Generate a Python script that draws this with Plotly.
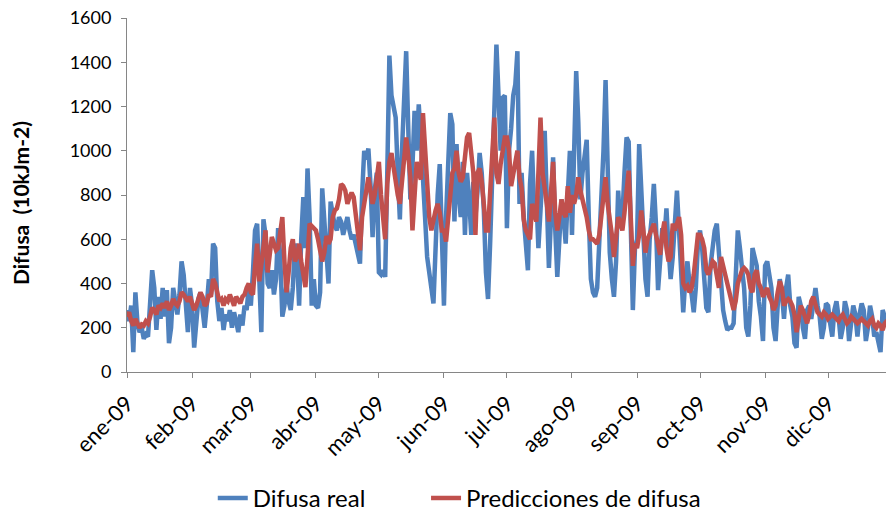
import pandas as pd
import plotly.graph_objects as go

# Daily diffuse radiation for 2009 (10 kJ m-2), one row per month
difusa_real = [
    280, 230, 300, 90, 360, 220, 180, 200, 150, 170, 160, 300, 460, 380, 190, 340, 240, 380, 250, 370, 130, 200, 380, 320, 260, 350, 500, 440, 300, 180, 380,
    300, 110, 250, 330, 360, 280, 200, 300, 420, 350, 580, 560, 320, 230, 290, 190, 260, 230, 280, 200, 270, 230, 180, 260, 210, 300, 280, 380,
    300, 450, 640, 670, 400, 180, 690, 620, 400, 380, 460, 350, 420, 650, 520, 250, 300, 400, 320, 280, 380, 580, 520, 300, 600, 790, 560, 920, 700, 300, 420,
    300, 290, 360, 830, 700, 580, 400, 770, 700, 660, 640, 700, 680, 620, 660, 700, 640, 600, 620, 580, 540, 490, 800, 1000, 960, 1010, 850, 610, 820, 900,
    450, 440, 460, 430, 900, 1430, 1250, 1200, 1150, 900, 690, 1000, 1300, 1450, 1100, 780, 930, 1180, 1000, 1210, 1050, 820, 700, 520, 430, 380, 310, 600, 800, 940, 560,
    300, 700, 1000, 1170, 1120, 680, 1030, 800, 700, 950, 620, 900, 780, 620, 860, 700, 820, 990, 900, 730, 450, 330, 580, 870, 1100, 1480, 1250, 1000, 1240, 1250,
    650, 1000, 1100, 1250, 1300, 1450, 760, 900, 700, 600, 460, 850, 1000, 730, 800, 560, 700, 900, 1090, 800, 470, 700, 970, 650, 430, 600, 780, 700, 580, 800, 1000,
    620, 1100, 1360, 1130, 780, 900, 1000, 1050, 700, 420, 360, 340, 380, 560, 730, 1000, 1320, 800, 540, 420, 340, 500, 820, 650, 700, 900, 1060, 1040, 600, 280, 560,
    600, 1030, 800, 580, 420, 340, 600, 700, 850, 670, 370, 500, 650, 600, 740, 560, 420, 520, 700, 820, 640, 400, 270, 420, 500, 400, 350, 270, 380, 580,
    640, 560, 420, 290, 270, 480, 560, 640, 670, 550, 400, 280, 230, 190, 200, 200, 220, 450, 640, 560, 480, 380, 200, 160, 300, 560, 520, 480, 320, 250, 140,
    480, 500, 420, 380, 200, 140, 300, 420, 360, 240, 380, 440, 300, 250, 130, 110, 340, 300, 200, 150, 280, 300, 240, 320, 380, 300, 250, 150, 200, 310,
    300, 220, 160, 280, 320, 250, 150, 200, 320, 280, 140, 220, 300, 260, 160, 260, 310, 280, 140, 200, 300, 250, 160, 180, 130, 90, 280, 240, 220, 200, 210,
]

predicciones = [
    250, 270, 230, 210, 240, 220, 200, 215, 210, 230, 220, 250, 290, 280, 260, 300, 290, 310, 290, 320, 280, 300, 330, 310, 300, 320, 360, 350, 330, 320, 340,
    310, 280, 300, 330, 360, 340, 300, 310, 350, 340, 420, 400, 350, 320, 330, 300, 330, 320, 350, 330, 300, 340, 320, 310, 340, 350, 380, 400,
    360, 350, 480, 580, 410, 480, 560, 640, 450, 520, 610, 580, 550, 560, 640, 700, 500, 360, 450, 560, 600, 500, 520, 580, 500, 440, 384, 520, 670, 660, 650,
    640, 600, 540, 500, 540, 615, 580, 600, 700, 730, 740, 780, 850, 840, 820, 760, 790, 810, 790, 700, 620, 550, 700, 760, 840, 880, 820, 760, 800, 880,
    950, 800, 720, 600, 850, 950, 990, 920, 880, 800, 760, 880, 980, 1060, 980, 880, 640, 850, 950, 900, 870, 1170, 1000, 880, 700, 640, 700, 730, 760, 720, 640,
    640, 590, 700, 790, 900, 920, 1000, 900, 860, 880, 960, 1060, 1080, 960, 900, 620, 900, 920, 860, 760, 640, 640, 800, 1000, 1150, 900, 850, 940, 1000, 1060,
    1060, 1000, 840, 900, 960, 1000, 880, 830, 690, 640, 620, 600, 760, 720, 680, 900, 1150, 900, 810, 760, 680, 800, 950, 720, 640, 700, 780, 720, 700, 840, 720,
    800, 760, 800, 880, 820, 780, 760, 700, 640, 600, 600, 590, 580, 620, 700, 820, 880, 760, 700, 620, 520, 600, 700, 680, 640, 720, 840, 910, 700, 480, 580,
    560, 620, 730, 640, 540, 600, 620, 640, 670, 620, 560, 530, 620, 680, 560, 500, 520, 670, 640, 680, 700, 620, 400, 380, 390, 360, 380, 440, 560, 620,
    620, 600, 560, 460, 440, 480, 500, 490, 420, 380, 520, 480, 440, 400, 340, 300, 280, 320, 400, 430, 460, 470, 460, 440, 380, 360, 440, 460, 400, 380, 340,
    360, 380, 340, 320, 280, 300, 360, 410, 380, 300, 320, 330, 320, 300, 260, 180, 240, 300, 280, 240, 220, 260, 320, 340, 300, 270, 260, 250, 270, 260,
    240, 250, 260, 250, 240, 230, 250, 260, 240, 220, 230, 250, 240, 230, 220, 230, 240, 230, 220, 210, 230, 240, 210, 200, 220, 210, 190, 220, 230, 220, 210,
]

mes_etiquetas = ["ene-09", "feb-09", "mar-09", "abr-09", "may-09", "jun-09",
                 "jul-09", "ago-09", "sep-09", "oct-09", "nov-09", "dic-09"]

fechas = pd.date_range("2009-01-01", "2009-12-31", freq="D")
assert len(difusa_real) == len(fechas) == len(predicciones)

dia = list(range(len(fechas)))
inicio_mes = [i for i, f in enumerate(fechas) if f.day == 1]

FONT = "Lato, 'Open Sans', sans-serif"
AXIS_GREY = "#868686"

fig = go.Figure()
fig.add_trace(go.Scatter(x=dia, y=difusa_real, mode="lines", name="Difusa real",
                         line=dict(color="#4F81BD", width=4.5), legend="legend"))
fig.add_trace(go.Scatter(x=dia, y=predicciones, mode="lines", name="Predicciones de difusa",
                         line=dict(color="#C0504D", width=4.5), legend="legend2"))

# Legends are pinned to the page so they never steal room from the plot area
legend_style = dict(orientation="h", yref="container", yanchor="middle", y=0.036,
                    xanchor="left", font=dict(size=24), bgcolor="rgba(0,0,0,0)")

fig.update_layout(
    width=886, height=517,
    margin=dict(l=127, r=0, t=18, b=145, autoexpand=False),
    paper_bgcolor="white", plot_bgcolor="white",
    font=dict(family=FONT, size=18, color="#000000"),
    showlegend=True,
    legend=dict(x=0.113, **legend_style),
    legend2=dict(x=0.394, **legend_style),
)
fig.update_xaxes(
    range=[0, 361.6], tickvals=inicio_mes, ticktext=mes_etiquetas, tickangle=-45,
    showgrid=False, zeroline=False, showline=True, linecolor=AXIS_GREY, linewidth=1,
    ticks="outside", ticklen=5, tickcolor=AXIS_GREY, tickfont=dict(size=22),
    ticklabelstandoff=4, automargin=False,
)
fig.update_yaxes(
    range=[0, 1600], dtick=200, showgrid=False, zeroline=False,
    showline=True, linecolor=AXIS_GREY, linewidth=1,
    ticks="outside", ticklen=5, tickcolor=AXIS_GREY, tickfont=dict(size=18),
    ticklabelstandoff=6, automargin=False,
)
fig.add_annotation(
    text="<b>Difusa  (10kJm-2)</b>", textangle=-90, xref="paper", yref="paper",
    x=-0.141, y=0.477, xanchor="center", yanchor="middle", showarrow=False,
    font=dict(size=21, color="#000000"),
)

fig.write_html("out.html")
